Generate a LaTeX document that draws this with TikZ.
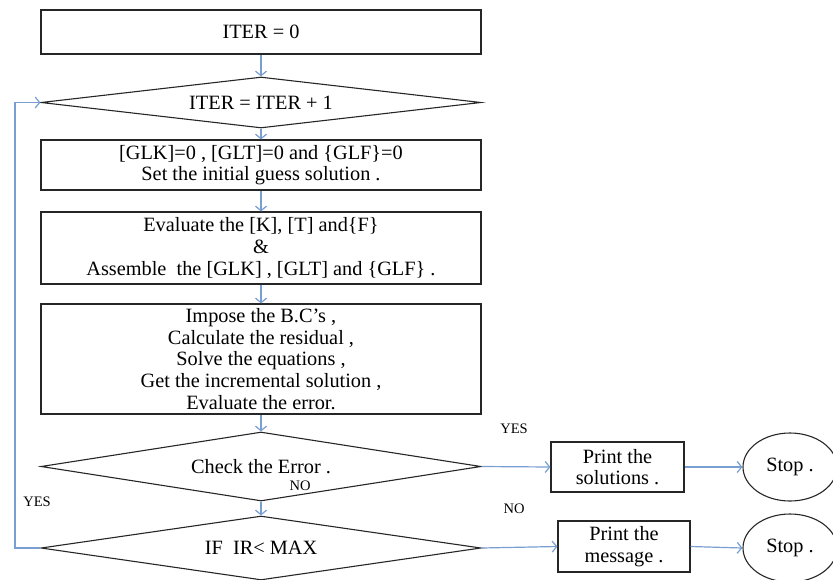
\documentclass[tikz,border=0pt]{standalone}
\usepackage{fontspec}
\setmainfont{Liberation Serif}
\usetikzlibrary{shapes.geometric,arrows.meta}
\definecolor{conncol}{RGB}{120,158,210}
\begin{document}
\begin{tikzpicture}[x=1pt,y=-1pt,
  txt/.style={font={\fontsize{20.3}{21.6}\selectfont}, align=center},
  box/.style={txt, draw=black!85, line width=1.1pt, inner sep=0pt, minimum width=440pt},
  smallbox/.style={txt, draw=black!85, line width=1.1pt, inner sep=0pt},
  dia/.style={txt, draw=black!85, line width=1.1pt, shape=diamond, aspect=8.6, inner sep=0pt, minimum width=440pt},
  stopnode/.style={txt, draw=black!85, line width=1.1pt, shape=ellipse, inner sep=0pt, minimum width=94pt, minimum height=68pt},
  conn/.style={draw=conncol, line width=1.2pt, -{Straight Barb[length=4.5pt,width=11pt]}},
  lbl/.style={font={\fontsize{14.5}{16}\selectfont}}
]
\useasboundingbox (0,0) rectangle (833,579);

\node[box, minimum height=44pt] (b1) at (261,32) {ITER = 0};
\node[dia, minimum height=51pt] (d1) at (261,102.5) {ITER = ITER + 1};
\node[box, minimum height=50pt] (b2) at (261,165) {[GLK]=0 , [GLT]=0 and \{GLF\}=0\\Set the initial guess solution .};
\node[box, minimum height=72pt] (b3) at (261,248) {Evaluate the [K], [T] and\{F\}\\\&\\Assemble\ \ the [GLK] , [GLT] and \{GLF\} .};
\node[box, minimum height=110pt] (b4) at (261,359) {Impose the B.C’s ,\\Calculate the residual ,\\Solve the equations ,\\Get the incremental solution ,\\Evaluate the error.};
\node[dia, minimum height=69pt] (d2) at (261,466.5) {Check the Error .};
\node[dia, minimum height=64pt] (d3) at (261,548) {IF\ \ IR< MAX};

\node[smallbox, minimum width=133pt, minimum height=50pt] (ps) at (617.5,467) {Print the\\solutions .};
\node[smallbox, minimum width=132pt, minimum height=51pt] (pm) at (624,546.5) {Print the\\message .};
\node[stopnode] (s1) at (790,467) {Stop .};
\node[stopnode] (s2) at (790,548) {Stop .};

\coordinate (lb) at (15,548);
\coordinate (lt) at (15,102.5);

\draw[conn] (b1) -- (d1);
\draw[conn] (d1) -- (b2);
\draw[conn] (b2) -- (b3);
\draw[conn] (b3) -- (b4);
\draw[conn] (b4) -- (d2);
\draw[conn] (d2) -- (d3);
\draw[conn] (d3.west) -- (lb) -- (lt) -- (d1.west);
\draw[conn] (d2.east) -- (ps.west);
\draw[conn] (ps.east) -- (s1.west);
\draw[conn] (d3.east) -- (pm.west);
\draw[conn] (pm.east) -- (s2.west);

\node[lbl] (yes1) at (514,429) {YES};
\node[lbl] (no1) at (514,509) {NO};
\node[lbl] (yes2) at (37,502) {YES};
\node[lbl] (no2) at (300,486) {NO};
\end{tikzpicture}
\end{document}
